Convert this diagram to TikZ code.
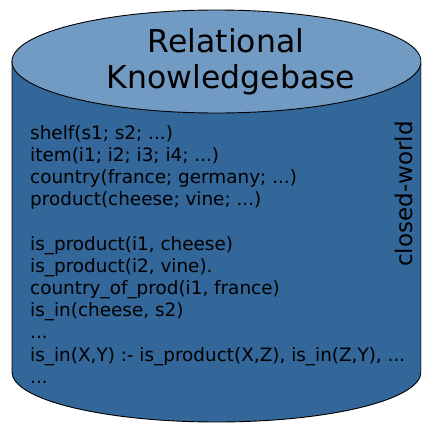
\documentclass[tikz,border=0pt]{standalone}
\usepackage{fontspec}
\setmainfont{DejaVu Sans}
\definecolor{dbside}{RGB}{51,102,153}
\definecolor{dbtop}{RGB}{114,155,196}
\tikzset{
  fact/.style={anchor=base west, inner sep=0pt, font=\fontsize{18.4}{21}\selectfont},
  title/.style={anchor=base, inner sep=0pt, font=\fontsize{31.5}{36}\selectfont},
  dbline/.style={draw=black, line width=0.9pt}
}
\begin{document}
\begin{tikzpicture}[x=1pt, y=-1pt]
  \useasboundingbox (0,0) rectangle (421,423);
  \clip (0,0) rectangle (421,423);
  % cylinder
  \filldraw[dbline, fill=dbside] (12,61.5) -- (12,372)
    arc[start angle=180, end angle=0, x radius=204.5, y radius=50]
    -- (421,61.5) -- cycle;
  \filldraw[dbline, fill=dbtop] (216.5,61.5) ellipse[x radius=204.5, y radius=51.5];
  \node[title] (t1) at (226,52) {Relational};
  \node[title] (t2) at (231,88) {Knowledgebase};
  % facts and rules
  \node[fact] (f1) at (30,139) {shelf(s1; s2; ...)};
  \node[fact] (f2) at (30,161.2) {item(i1; i2; i3; i4; ...)};
  \node[fact] (f3) at (30,183.4) {country(france; germany; ...)};
  \node[fact] (f4) at (30,205.6) {product(cheese; vine; ...)};
  \node[fact] (f5) at (30,250) {is\_product(i1, cheese)};
  \node[fact] (f6) at (30,272.2) {is\_product(i2, vine).};
  \node[fact] (f7) at (30,294.4) {country\_of\_prod(i1, france)};
  \node[fact] (f8) at (30,316.6) {is\_in(cheese, s2)};
  \node[fact] (f9) at (30,338.8) {...};
  \node[fact] (f10) at (30,361) {is\_in(X,Y) :- is\_product(X,Z), is\_in(Z,Y), ...};
  \node[fact] (f11) at (30,383.2) {...};
  \node[rotate=90, inner sep=0pt, font=\fontsize{23}{26}\selectfont] (cw) at (404,194) {closed-world};
\end{tikzpicture}
\end{document}
